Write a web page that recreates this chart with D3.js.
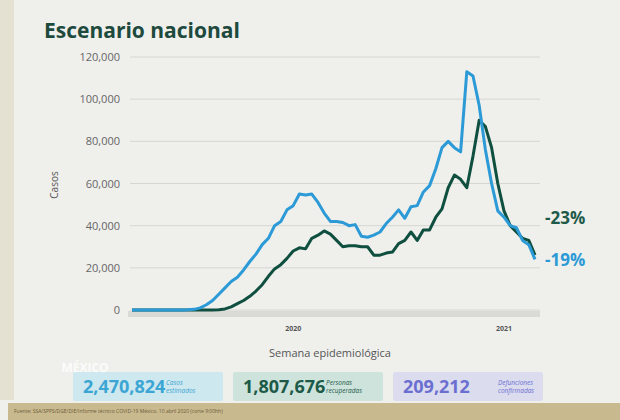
<!DOCTYPE html>
<html><head><meta charset="utf-8">
<script src="https://cdn.jsdelivr.net/npm/d3@7"></script>
<style>body{margin:0;background:#efefec;font-family:'Open Sans',sans-serif}</style>
</head><body><svg id="c" width="620" height="420"></svg>
<script>
const weeks = d3.range(1, 67);
const estimados = [0,0,0,0,0,0,0,0,0,100,300,1000,2500,4500,7500,10500,13500,15500,19000,23000,26500,31000,34000,40000,42000,47500,49500,55000,54500,55000,51000,46000,42000,42000,41500,40000,40500,35000,34500,35500,37000,41000,44000,47500,43500,49000,49500,56000,59000,67000,77000,80000,77000,75000,113000,111000,97000,76000,60000,47000,44000,40000,39000,33000,31000,24000];
const confirmados = [0,0,0,0,0,0,0,0,0,0,0,0,0,0,100,500,1500,3000,4500,6500,9000,12000,16000,19500,21500,24500,28000,29500,29000,34000,35500,37500,36000,33000,30000,30500,30500,30000,30000,26000,26000,27000,27500,31500,33000,37000,33000,38000,38000,44000,48000,58000,64000,62000,58000,73000,90000,87000,77000,60000,47000,40000,37000,34000,33000,26000];
const yTicks = [0,20000,40000,60000,80000,100000,120000];
const yearLabels = [{w:27,t:"2020"},{w:61,t:"2021"}];
const totals = [{v:"2,470,824",l:["Casos","estimados"]},{v:"1,807,676",l:["Personas","recuperadas"]},{v:"209,212",l:["Defunciones","confirmadas"]}];
const pct = [{t:"-23%",v:confirmados[65]},{t:"-19%",v:estimados[65]}];

const svg = d3.select("#c");
svg.append("rect").attr("width",620).attr("height",420).attr("fill","#efefec");
svg.append("rect").attr("x",0).attr("y",0).attr("width",14).attr("height",400).attr("fill","#e4e0d2");
svg.append("text").attr("x",44).attr("y",38).attr("font-size",21).attr("font-weight",700).attr("fill","#1d4a3c").text("Escenario nacional");

const x = d3.scaleLinear().domain([1,66]).range([132,535]);
const y = d3.scaleLinear().domain([0,120000]).range([310,57]);
const g = svg.append("g");
g.selectAll("line.grid").data(yTicks).join("line").attr("x1",130).attr("x2",540).attr("y1",d=>y(d)).attr("y2",d=>y(d)).attr("stroke","#d6d6d2").attr("stroke-width",1);
g.selectAll("text.yt").data(yTicks).join("text").attr("x",120).attr("y",d=>y(d)+4).attr("text-anchor","end").attr("font-size",11).attr("fill","#666").text(d3.format(","));
svg.append("text").attr("transform","translate(58,185) rotate(-90)").attr("text-anchor","middle").attr("font-size",10).attr("fill","#555").text("Casos");
svg.append("rect").attr("x",128).attr("y",311).attr("width",412).attr("height",6).attr("fill","#d9d9d5");
g.selectAll("text.wk").data(weeks).join("text").attr("x",d=>x(d)).attr("y",316).attr("text-anchor","middle").attr("font-size",3).attr("fill","#888").text(d=>d>53?d-53:d);
g.selectAll("text.yr").data(yearLabels).join("text").attr("x",d=>x(d.w)).attr("y",331).attr("text-anchor","middle").attr("font-size",7).attr("font-weight",700).attr("fill","#555").text(d=>d.t);
svg.append("text").attr("x",330).attr("y",357).attr("text-anchor","middle").attr("font-size",11).attr("fill","#555").text("Semana epidemiológica");

const line = d3.line().x((d,i)=>x(weeks[i])).y(d=>y(d));
svg.append("path").datum(confirmados).attr("d",line).attr("fill","none").attr("stroke","#0f4f3f").attr("stroke-width",3).attr("stroke-linejoin","round");
svg.append("path").datum(estimados).attr("d",line).attr("fill","none").attr("stroke","#2b9ad6").attr("stroke-width",3).attr("stroke-linejoin","round");
svg.append("text").attr("x",545).attr("y",224).attr("font-size",17).attr("font-weight",700).attr("fill","#1d5a48").text(pct[0].t);
svg.append("text").attr("x",545).attr("y",266).attr("font-size",17).attr("font-weight",700).attr("fill","#2b9ad6").text(pct[1].t);

// logo placeholder
svg.append("text").attr("x",85).attr("y",372).attr("text-anchor","middle").attr("font-size",12).attr("font-weight",700).attr("fill","#ffffff").attr("opacity",0.8).text("MÉXICO");

const boxX=[73,233,393], fills=["#cde8ef","#cde3dc","#dcdcef"], cols=["#3ba5d3","#1d5a48","#6b6fcf"];
totals.forEach((t,i)=>{
  svg.append("rect").attr("x",boxX[i]).attr("y",372).attr("width",150).attr("height",29).attr("rx",2).attr("fill",fills[i]);
  svg.append("text").attr("x",boxX[i]+10).attr("y",393).attr("font-size",18).attr("font-weight",700).attr("fill",cols[i]).text(t.v);
  t.l.forEach((s,j)=>svg.append("text").attr("x",boxX[i]+(i==2?105:93)).attr("y",385+j*8).attr("font-size",6.5).attr("font-style","italic").attr("fill",cols[i]).text(s));
});
svg.append("rect").attr("x",8).attr("y",403).attr("width",612).attr("height",17).attr("fill","#c9b98e");
svg.append("text").attr("x",14).attr("y",413).attr("font-size",5).attr("fill","#6b5b3a").text("Fuente: SSA/SPPS/DGE/DIE/Informe técnico COVID-19 México. 10 abril 2020 (corte 9:00hh)");
</script></body></html>
